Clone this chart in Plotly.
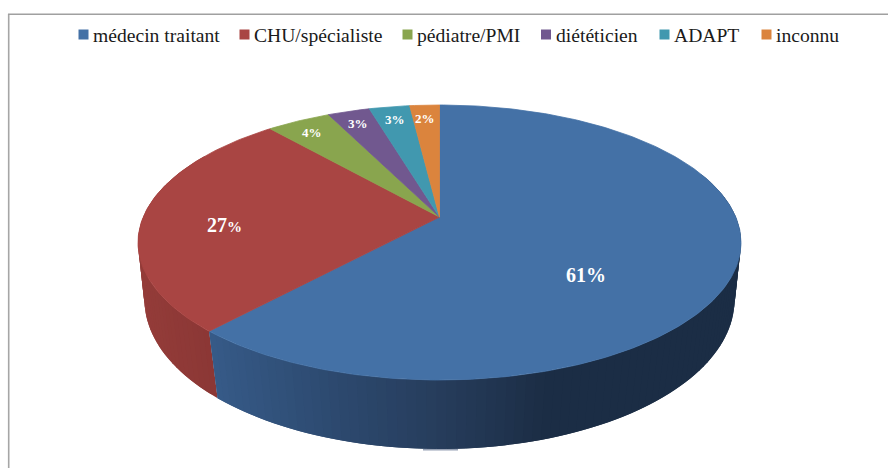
import numpy as np
import plotly.graph_objects as go

# ---- data ----
categories = ["médecin traitant", "CHU/spécialiste", "pédiatre/PMI", "diététicien", "ADAPT", "inconnu"]
values = [61.7, 27.0, 4.1, 2.7, 2.6, 1.9]
pct_labels = ["61", "27", "4", "3", "3", "2"]

# ---- styles ----
top_colors = ["#4471A6", "#A94543", "#89A54E", "#71588F", "#4198AF", "#DB843D"]
W, H = 888, 468
FONT = "Liberation Serif"

# ---- geometry of the tilted pie (perspective disc) ----
TOP = dict(cx=439.5, cy=242.5, rx=301.5, ry=137.5, t=-0.185)
BOT = dict(cx=439.5, cy=300.0, rx=295.0, ry=149.0, t=-0.162)


def project(theta, g, r=1.0):
    """theta: clockwise from 12 o'clock, radians."""
    u = r * np.sin(theta)
    v = -r * np.cos(theta)
    d = 1 + g["t"] * v
    X = u * np.sqrt(1 - g["t"] ** 2) / d
    Y = (v + g["t"]) / d
    return g["cx"] + g["rx"] * X, g["cy"] + g["ry"] * Y


def mix(stops, x):
    xs = [s[0] for s in stops]
    c = [np.interp(x, xs, [s[1][i] for s in stops]) for i in range(3)]
    return "rgb(%d,%d,%d)" % tuple(int(round(k)) for k in c)


blue_side = [(217, (54, 90, 135)), (330, (45, 74, 112)), (444, (38, 60, 91)), (545, (27, 45, 69)), (745, (27, 45, 69))]
red_side = [(140, (148, 60, 57)), (217, (139, 55, 53))]

fracs = np.array(values) / sum(values)
edges = np.concatenate([[0], np.cumsum(fracs)]) * 2 * np.pi

fig = go.Figure()


def poly(xs, ys, color, lw=0.8):
    fig.add_trace(go.Scatter(x=xs, y=ys, mode="lines", fill="toself", fillcolor=color,
                             line=dict(color=color, width=lw), hoverinfo="skip", showlegend=False))


# side wall: every band overlaps the next one so that no seams show
for start, stop, stops in [(edges[1], min(edges[2], np.radians(300)), red_side),
                           (np.radians(70), edges[1], blue_side)]:
    bands = np.linspace(start, stop, max(int((stop - start) / np.radians(1.6)), 2) + 1)
    for k, (a, b) in enumerate(zip(bands[:-1], bands[1:])):
        end = bands[min(k + 2, len(bands) - 1)]
        th = np.linspace(a, end, 6)
        x1, y1 = project(th, TOP)
        x2, y2 = project(th[::-1], BOT)
        xs = np.concatenate([x1, x2, x1[:1]])
        ys = np.concatenate([y1, y2, y1[:1]])
        tx1, _ = project(np.array([a, b]), TOP)
        tx2, _ = project(np.array([a, b]), BOT)
        poly(xs, ys, mix(stops, float(np.mean([*tx1, *tx2]))), lw=0)

# top face
ax, ay = project(0.0, TOP, 0.0)
for i, col in enumerate(top_colors):
    th = np.linspace(edges[i], edges[i + 1], max(int(fracs[i] * 400), 6))
    x, y = project(th, TOP)
    poly(np.concatenate([[ax], x, [ax]]), np.concatenate([[ay], y, [ay]]), col)

# legend (square + text)
legend_x = [83.5, 244.5, 407.5, 546, 664.5, 766.5]
legend_text_x = [90.5, 251.5, 414.5, 553.5, 671.5, 773.5]
fig.add_trace(go.Scatter(x=legend_x, y=[34.5] * 6, mode="markers",
                         marker=dict(symbol="square", size=10, color=top_colors, line=dict(width=0)),
                         hoverinfo="skip", showlegend=False))
annotations = [dict(x=tx, y=35, text=c, xref="x", yref="y", xanchor="left", yanchor="middle", showarrow=False,
                    font=dict(family=FONT, size=19.6, color="#1a1a1a"))
               for tx, c in zip(legend_text_x, categories)]

# percentage labels
label_pos = [(586, 275), (224, 225), (312, 132), (358, 123), (395, 119), (425, 118)]
label_size = [20, 20, 13, 13, 13, 13]
for (lx, ly), p, s in zip(label_pos, pct_labels, label_size):
    small = 15 if p == "27" else s
    txt = f"<b>{p}<span style='font-size:{small}px'>%</span></b>"
    annotations.append(dict(x=lx, y=ly, text=txt, xref="x", yref="y", xanchor="center", yanchor="middle",
                            showarrow=False, font=dict(family=FONT, size=s, color="white")))

# frame
shapes = [
    dict(type="line", xref="x", yref="y", x0=8.7, x1=8.7, y0=14, y1=468, line=dict(color="#A6A6A6", width=1.6)),
    dict(type="line", xref="x", yref="y", x0=8, x1=888, y0=14.2, y1=14.2, line=dict(color="#A0A0A0", width=1.5)),
    dict(type="line", xref="x", yref="y", x0=423, x1=458, y0=449.7, y1=449.7, line=dict(color="#98A2B5", width=1.4)),
]

fig.update_layout(
    width=W, height=H, margin=dict(l=0, r=0, t=0, b=0), paper_bgcolor="white", plot_bgcolor="white",
    showlegend=False, annotations=annotations, shapes=shapes,
    xaxis=dict(range=[0, W], visible=False, fixedrange=True),
    yaxis=dict(range=[H, 0], visible=False, fixedrange=True),
)
fig.write_html("out.html", config={"displayModeBar": False},
               post_script="document.body.style.margin='0';document.body.style.overflow='hidden';")
